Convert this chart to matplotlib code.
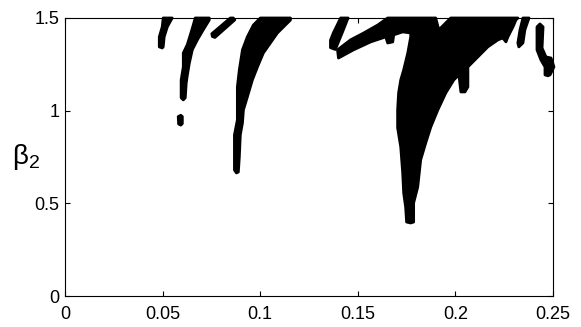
import matplotlib
matplotlib.use("Agg")
import matplotlib.pyplot as plt

plt.rcParams['font.family'] = ['Liberation Sans', 'DejaVu Sans']
plt.rcParams['mathtext.fontset'] = 'custom'
plt.rcParams['mathtext.rm'] = 'Liberation Sans'

# outline vertices (alpha, beta2) of each black region
tongue_a_x = [0.0503, 0.0498, 0.0483, 0.0483, 0.0498, 0.0503, 0.0508, 0.0524, 0.0549]
tongue_a_y = [1.500, 1.452, 1.398, 1.344, 1.338, 1.344, 1.398, 1.452, 1.500]

tongue_b_x = [0.0667, 0.0739, 0.0739, 0.0708, 0.0678, 0.0652, 0.0637, 0.0626, 0.0621, 0.0616,
              0.0606, 0.0595, 0.0595, 0.0606, 0.0606, 0.0626, 0.0642, 0.0657]
tongue_b_y = [1.500, 1.500, 1.489, 1.436, 1.382, 1.328, 1.257, 1.187, 1.150, 1.069,
              1.058, 1.069, 1.166, 1.236, 1.311, 1.355, 1.409, 1.462]

island_x = [0.0582, 0.0593, 0.0601, 0.0601, 0.0593, 0.0580]
island_y = [0.928, 0.922, 0.930, 0.968, 0.975, 0.968]

strand_c_x = [0.0755, 0.0768, 0.0870, 0.0862, 0.0847, 0.0752]
strand_c_y = [1.400, 1.395, 1.490, 1.500, 1.500, 1.415]

tongue_d_x = [0.1001, 0.1155, 0.1155, 0.1129, 0.1088, 0.1052, 0.1016, 0.0986, 0.0960, 0.0934,
              0.0914, 0.0909, 0.0898, 0.0893, 0.0888, 0.0878, 0.0868, 0.0868, 0.0883, 0.0883,
              0.0893, 0.0909, 0.0934, 0.0965]
tongue_d_y = [1.500, 1.500, 1.489, 1.462, 1.419, 1.365, 1.311, 1.236, 1.166, 1.074,
              1.004, 0.934, 0.869, 0.750, 0.669, 0.664, 0.680, 0.869, 0.950, 1.128,
              1.220, 1.328, 1.398, 1.462]

strand_e_x = [0.1360, 0.1385, 0.1420, 0.1450, 0.1412, 0.1375, 0.1360]
strand_e_y = [1.340, 1.330, 1.420, 1.500, 1.500, 1.420, 1.380]

main_x = [0.1401, 0.1478, 0.1566, 0.1643, 0.1653, 0.1679, 0.1684, 0.1730, 0.1771,
          0.1771, 0.1756, 0.1735, 0.1720, 0.1709, 0.1704, 0.1704, 0.1720, 0.1730, 0.1735,
          0.1745, 0.1750, 0.1771, 0.1786, 0.1786, 0.1807, 0.1822, 0.1848, 0.1874, 0.1910,
          0.1951, 0.1992, 0.2018, 0.2028, 0.2049, 0.2064, 0.2064, 0.2115, 0.2166, 0.2218,
          0.2243, 0.2259, 0.2269, 0.2295, 0.2310, 0.2320, 0.1976, 0.1915, 0.1899, 0.1653,
          0.1602, 0.1530, 0.1463, 0.1396]
main_y = [1.284, 1.328, 1.371, 1.398, 1.365, 1.371, 1.409, 1.425, 1.419,
          1.398, 1.311, 1.220, 1.166, 1.096, 1.004, 0.907, 0.804, 0.664, 0.556,
          0.480, 0.399, 0.394, 0.399, 0.502, 0.588, 0.734, 0.826, 0.912, 1.004,
          1.096, 1.166, 1.193, 1.101, 1.101, 1.128, 1.236, 1.290, 1.344, 1.382,
          1.392, 1.371, 1.398, 1.452, 1.489, 1.500, 1.500, 1.436, 1.500, 1.500,
          1.462, 1.419, 1.382, 1.328]

strand_g_x = [0.2346, 0.2331, 0.2320, 0.2325, 0.2346, 0.2356, 0.2377]
strand_g_y = [1.500, 1.436, 1.365, 1.344, 1.365, 1.436, 1.500]

strand_h_x = [0.2418, 0.2418, 0.2438, 0.2459, 0.2459, 0.2474, 0.2485, 0.2505, 0.2490,
              0.2464, 0.2444, 0.2449, 0.2433]
strand_h_y = [1.452, 1.328, 1.274, 1.236, 1.193, 1.188, 1.193, 1.236, 1.284,
              1.290, 1.338, 1.452, 1.468]

regions = [
    (tongue_a_x, tongue_a_y), (tongue_b_x, tongue_b_y), (island_x, island_y),
    (strand_c_x, strand_c_y), (tongue_d_x, tongue_d_y), (strand_e_x, strand_e_y),
    (main_x, main_y), (strand_g_x, strand_g_y), (strand_h_x, strand_h_y),
]

x_ticks = [0, 0.05, 0.1, 0.15, 0.2, 0.25]
x_labels = ["0", "0.05", "0.1", "0.15", "0.2", "0.25"]
y_ticks = [0, 0.5, 1, 1.5]
y_labels = ["0", "0.5", "1", "1.5"]

fig = plt.figure(figsize=(5.81, 3.27), dpi=100)
ax = fig.add_axes([0.1119, 0.0948, 0.8399, 0.8502])

for xs, ys in regions:
    ax.fill(xs, ys, facecolor="black", edgecolor="black", linewidth=2.0,
            joinstyle="round", clip_on=False)

ax.set_xlim(0, 0.25)
ax.set_ylim(0, 1.5)
ax.set_xticks(x_ticks)
ax.set_xticklabels(x_labels)
ax.set_yticks(y_ticks)
ax.set_yticklabels(y_labels)
ax.tick_params(direction="in", length=3.5, width=0.8, top=True, right=True,
               labelsize=13, colors="black")
ax.tick_params(axis="x", pad=7)
ax.tick_params(axis="y", pad=4)
for sp in ax.spines.values():
    sp.set_linewidth(0.8)

ax.set_ylabel(r"β$_{2}$", rotation=0, fontsize=20, ha="center", va="center")
ax.yaxis.set_label_coords(-0.08, 0.5)

fig.savefig("out.png", dpi=100)
